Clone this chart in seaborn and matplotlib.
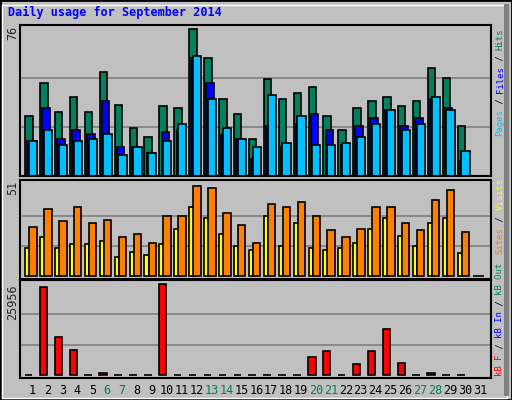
import numpy as np
import matplotlib
matplotlib.use("Agg")
import matplotlib.pyplot as plt
import seaborn as sns
from matplotlib.patches import Rectangle

# data
days = list(range(1, 32))
hits = [31, 48, 33, 41, 33, 54, 37, 25, 20, 36, 35, 76, 61, 40, 32,
        19, 50, 40, 43, 46, 31, 24, 35, 39, 41, 36, 39, 56, 51, 26, 0]
files = [18, 35, 19, 24, 22, 39, 15, 15, 12, 23, 24, 61, 48, 21, 19,
         9, 26, 15, 27, 32, 24, 16, 26, 30, 34, 26, 30, 40, 35, 8, 0]
pages = [18, 24, 16, 18, 19, 22, 11, 15, 12, 18, 27, 62, 40, 25, 19,
         15, 42, 17, 31, 16, 16, 17, 20, 27, 34, 24, 27, 41, 34, 13, 0]
visits = [16, 22, 16, 18, 18, 20, 11, 14, 12, 18, 27, 39, 33, 24, 17,
          15, 34, 17, 30, 16, 15, 16, 19, 27, 33, 23, 17, 30, 33, 13, 0]
sites = [28, 38, 31, 39, 30, 32, 22, 24, 19, 34, 34, 51, 50, 36, 29,
         19, 41, 39, 42, 34, 26, 22, 27, 39, 39, 30, 26, 43, 49, 25, 0]
kb_f = [0, 25100, 10890, 7200, 0, 660, 0, 0, 0, 25956, 0, 0, 0, 0, 0,
        0, 0, 0, 0, 5210, 6910, 0, 3220, 6910, 13170, 3500, 0, 600, 0, 0, None]
weekend = [6, 7, 13, 14, 20, 21, 27, 28]

sns.set_style("white")
plt.rcParams['font.family'] = ['DejaVu Sans Mono']

W, H = 512, 400
BG = "#c0c0c0"
fig = plt.figure(figsize=(W / 100, H / 100), dpi=100, facecolor=BG)

# 3D frame
fig.patches.append(Rectangle((0, 0), 1, 1, transform=fig.transFigure, fill=False,
                             edgecolor="black", lw=2))
fig.patches.append(Rectangle((2 / W, 2 / H), 1 - 7 / W, 1 - 7 / H, transform=fig.transFigure,
                             fill=False, edgecolor="white", lw=1))
fig.patches.append(Rectangle((W - 8, 4), 5, H - 8, transform=None,
                             facecolor="#808080", edgecolor="none"))


def px_axes(y0, y1):
    return fig.add_axes([20 / W, 1 - y1 / H, 471 / W, (y1 - y0) / H])


def style(ax, ymax, ylo, ytop):
    ax.set_facecolor(BG)
    ax.set_xlim(0.15, 31.74)
    ax.set_ylim(ylo, ytop)
    for g in (ymax / 3, 2 * ymax / 3):
        ax.axhline(g, color="#808080", lw=1.2, zorder=0)
    ax.set_yticks([])
    ax.set_xticks([])
    for s in ax.spines.values():
        s.set_color("black")
        s.set_linewidth(1.5)


x = np.array(days)
ek = dict(edgecolor="black", linewidth=1.2, align="edge")

ax1 = px_axes(25, 176)
style(ax1, 76, 0, 78.2)
ax1.bar(x - 0.5, hits, 0.5, color="#00805c", **ek)
ax1.bar(x - 0.35, files, 0.5, color="#0000ff", **ek)
ax1.bar(x - 0.25, pages, 0.55, color="#00c0ff", **ek)

ax2 = px_axes(180, 279)
style(ax2, 51, -1.5, 54.4)
ax2.bar(x - 0.5, visits, 0.3, color="#ffff00", **ek)
ax2.bar(x - 0.23, sites, 0.5, color="#ff8000", **ek)

ax3 = px_axes(280, 378)
style(ax3, 25956, -740, 27100)
kx = [d for d, v in zip(days, kb_f) if v is not None]
kv = [v for v in kb_f if v is not None]
ax3.bar(np.array(kx) - 0.53, kv, 0.5, color="#ff0000", **ek)
ax3.set_xticks(days)
ax3.set_xticklabels([str(d) for d in days], fontsize=8.5)
ax3.tick_params(axis="x", length=0, pad=4)
for lab, d in zip(ax3.get_xticklabels(), days):
    lab.set_color("#00805c" if d in weekend else "black")

# title
fig.text(8 / W, 1 - 12 / H, "Daily usage for September 2014", color="#0000ff",
         fontsize=8.5, fontweight="bold", va="center", ha="left")

# max labels
for ypx, s in [(26, "76"), (181, "51"), (284, "25956")]:
    fig.text(13 / W, 1 - ypx / H, s, rotation=90, fontsize=8.5, va="top", ha="center")

# rotated multicolour legends
CH = 5.4


def legend(pieces, ystart, anchor_top):
    n = sum(len(p) for p, _ in pieces)
    y = ystart + n * CH if anchor_top else ystart
    for txt, col in pieces:
        fig.text(500 / W, 1 - y / H, txt, rotation=90, color=col, fontsize=6.5,
                 va="bottom", ha="center")
        y -= len(txt) * CH


legend([("Pages", "#00c0ff"), (" / ", "black"), ("Files", "#0000ff"),
        (" / ", "black"), ("Hits", "#00805c")], 28, True)
legend([("Sites", "#ff8000"), (" / ", "black"), ("Visits", "#ffff00")], 178, True)
legend([("kB F", "#ff0000"), (" / ", "black"), ("kB In", "#0000ff"),
        (" / ", "black"), ("kB Out", "#00805c")], 376, False)

fig.savefig("out.png", dpi=100, facecolor=BG)
